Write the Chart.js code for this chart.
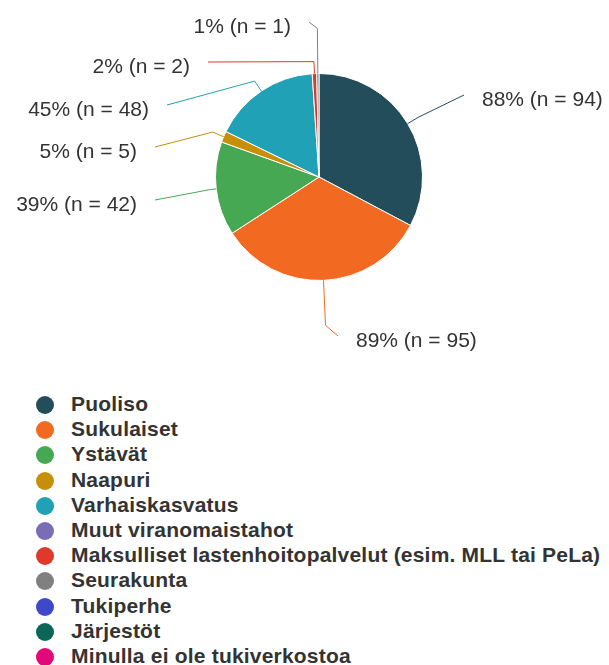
<!DOCTYPE html>
<html>
<head>
<meta charset="utf-8">
<script src="https://cdn.jsdelivr.net/npm/chart.js@4/dist/chart.umd.min.js"></script>
<style>
  body { margin: 0; background: #fff; }
  #wrap { position: relative; width: 609px; height: 665px; overflow: hidden; }
  #pie { position: absolute; left: 0; top: 0; }
  #legend {
    position: absolute; left: 36px; top: 391px;
    font: bold 21px "Liberation Sans", Arial, sans-serif; color: #333;
    letter-spacing: 0.2px;
  }
  #legend div { height: 25.2px; line-height: 25.2px; white-space: nowrap; }
  #legend span.dot {
    display: inline-block; width: 18px; height: 18px; border-radius: 50%;
    vertical-align: -3px; margin-right: 17px;
  }
</style>
</head>
<body>
<div id="wrap">
  <canvas id="pie" width="609" height="385"></canvas>
  <div id="legend"></div>
</div>
<script>
const categories = [
  "Puoliso",
  "Sukulaiset",
  "Ystävät",
  "Naapuri",
  "Varhaiskasvatus",
  "Muut viranomaistahot",
  "Maksulliset lastenhoitopalvelut (esim. MLL tai PeLa)",
  "Seurakunta",
  "Tukiperhe",
  "Järjestöt",
  "Minulla ei ole tukiverkostoa"
];
const counts = [94, 95, 42, 5, 48, 0, 2, 1, 0, 0, 0];
const percents = [88, 89, 39, 5, 45, 0, 2, 1, 0, 0, 0];

const colors = [
  "#234d5b", "#f26a21", "#47a853", "#c68f07", "#21a1b5", "#7a6db3",
  "#dd3a2b", "#808080", "#3e48c9", "#0b6656", "#e2087a"
];

// where each label's text sits: [x, y, side, elbow length]
const labelLayout = [
  [482, 100, "right", 12],
  [356, 341, "right", 45],
  [137, 205, "left", 6],
  [137, 152, "left", 12],
  [149, 110, "left", 12],
  null,
  [190, 67, "left", 12],
  [291, 27, "left", 45],
  null, null, null
];

const leaderLabels = {
  id: "leaderLabels",
  afterDatasetsDraw(chart) {
    const ctx = chart.ctx;
    const arcs = chart.getDatasetMeta(0).data;
    ctx.save();
    ctx.font = '21px "Liberation Sans", Arial, sans-serif';
    ctx.textBaseline = "middle";
    arcs.forEach((arc, i) => {
      const lay = labelLayout[i];
      if (!lay || !counts[i]) return;
      const { x, y, startAngle, endAngle, outerRadius } = arc.getProps(
        ["x", "y", "startAngle", "endAngle", "outerRadius"], true);
      const mid = (startAngle + endAngle) / 2;
      const [tx, ty, side, elbow] = lay;
      const ex = x + Math.cos(mid) * outerRadius;
      const ey = y + Math.sin(mid) * outerRadius;
      const bx = x + Math.cos(mid) * (outerRadius + elbow);
      const by = y + Math.sin(mid) * (outerRadius + elbow);
      const lx = side === "left" ? tx + 18 : tx - 18;
      ctx.strokeStyle = colors[i];
      ctx.lineWidth = 1;
      ctx.beginPath();
      ctx.moveTo(ex, ey);
      ctx.lineTo(bx, by);
      ctx.lineTo(lx, ty - 5);
      ctx.stroke();
      ctx.fillStyle = "#333";
      ctx.textAlign = side === "left" ? "right" : "left";
      ctx.fillText(percents[i] + "% (n = " + counts[i] + ")", tx, ty);
    });
    ctx.restore();
  }
};

new Chart(document.getElementById("pie"), {
  type: "pie",
  data: {
    labels: categories,
    datasets: [{
      data: counts,
      backgroundColor: colors,
      borderColor: "#fff",
      borderWidth: 1,
      hoverBorderWidth: 1
    }]
  },
  options: {
    responsive: false,
    animation: false,
    events: [],
    layout: { padding: { top: 73, left: 215, right: 186, bottom: 104 } },
    plugins: {
      legend: { display: false },
      tooltip: { enabled: false }
    }
  },
  plugins: [leaderLabels]
});

const legend = document.getElementById("legend");
categories.forEach((name, i) => {
  const row = document.createElement("div");
  row.innerHTML = `<span class="dot" style="background:${colors[i]}"></span>${name}`;
  legend.appendChild(row);
});
</script>
</body>
</html>
